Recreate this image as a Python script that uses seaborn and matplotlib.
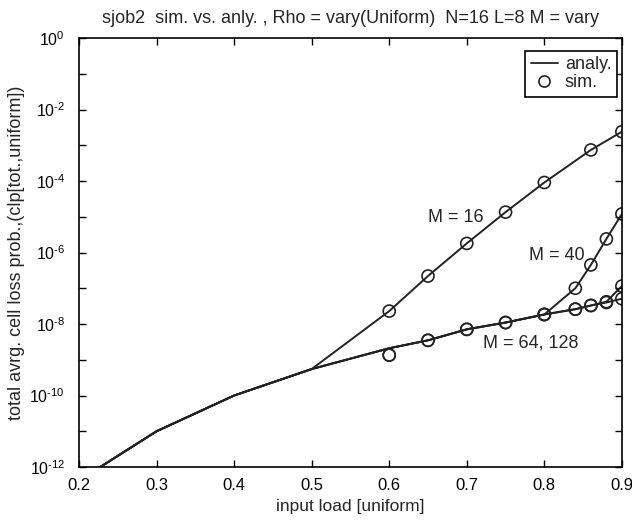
import numpy as np
import pandas as pd
import matplotlib
matplotlib.use("Agg")
import matplotlib.pyplot as plt
from matplotlib.lines import Line2D
import seaborn as sns

# ---- data ----
shared_x = [0.2, 0.3, 0.4, 0.5]
shared_y = [4.2e-13, 1.0e-11, 1.0e-10, 5.5e-10]

m16_x = [0.6, 0.65, 0.7, 0.75, 0.8, 0.86, 0.9]
m16_analy = [2.3e-8, 2.2e-7, 1.8e-6, 1.35e-5, 9.1e-5, 7.4e-4, 2.4e-3]
m16_sim = [2.3e-8, 2.2e-7, 1.8e-6, 1.35e-5, 9.1e-5, 7.4e-4, 2.4e-3]

mhi_x = [0.6, 0.65, 0.7, 0.75, 0.8, 0.84, 0.86, 0.88, 0.9]
m64_analy = [2.1e-9, 3.5e-9, 7.1e-9, 1.1e-8, 1.85e-8, 2.6e-8, 3.3e-8, 4.2e-8, 1.15e-7]
m128_analy = [2.1e-9, 3.5e-9, 7.1e-9, 1.1e-8, 1.85e-8, 2.6e-8, 3.3e-8, 4.0e-8, 5.1e-8]
m64_sim = [1.35e-9, 3.5e-9, 7.1e-9, 1.1e-8, 1.85e-8, 2.6e-8, 3.3e-8, 4.2e-8, 1.15e-7]
m128_sim = [1.35e-9, 3.5e-9, 7.1e-9, 1.1e-8, 1.85e-8, 2.6e-8, 3.3e-8, 4.0e-8, 5.1e-8]

m40_x = [0.84, 0.86, 0.88, 0.9]
m40_analy = [1.0e-7, 4.5e-7, 2.4e-6, 1.2e-5]
m40_sim_x = [0.8, 0.84, 0.86, 0.88, 0.9]
m40_sim = [1.85e-8, 1.0e-7, 4.5e-7, 2.4e-6, 1.2e-5]

x_ticks = [0.2, 0.3, 0.4, 0.5, 0.6, 0.7, 0.8, 0.9]
y_label_exps = [0, -2, -4, -6, -8, -10, -12]

title = "sjob2  sim. vs. anly. , Rho = vary(Uniform)  N=16 L=8 M = vary"
xlabel = "input load [uniform]"
ylabel = "total avrg. cell loss prob.,(clp[tot.,uniform])"

# ---- build tables ----
rows = []
def add(series, xs, ys):
    for x, y in zip(xs, ys):
        rows.append({"series": series, "load": x, "clp": y})

add("M=16", shared_x + m16_x, shared_y + m16_analy)
add("M=40", shared_x + mhi_x[:5] + m40_x, shared_y + m64_analy[:5] + m40_analy)
add("M=64", shared_x + mhi_x, shared_y + m64_analy)
add("M=128", shared_x + mhi_x, shared_y + m128_analy)
analy = pd.DataFrame(rows)

rows = []
add("M=16", m16_x, m16_sim)
add("M=40", m40_sim_x, m40_sim)
add("M=64", mhi_x, m64_sim)
add("M=128", mhi_x, m128_sim)
sim = pd.DataFrame(rows)

# ---- plot ----
sns.set_theme(style="ticks")
plt.rcParams["font.family"] = ["Liberation Sans", "DejaVu Sans"]
plt.rcParams["mathtext.fontset"] = "custom"
plt.rcParams["mathtext.rm"] = "Liberation Sans"
plt.rcParams["mathtext.it"] = "Liberation Sans"

fig = plt.figure(figsize=(6.32, 5.21), dpi=100)
ax = fig.add_axes([0.125, 0.1036, 0.859, 0.8234])

lc = "#222222"
sns.lineplot(data=analy, x="load", y="clp", units="series", estimator=None,
             color=lc, linewidth=1.4, ax=ax, sort=False, legend=False)
sns.scatterplot(data=sim, x="load", y="clp", marker="o", s=75,
                facecolor="none", edgecolor=lc, linewidth=1.2, ax=ax, legend=False)

ax.set_yscale("log")
ax.set_xlim(0.2, 0.9)
ax.set_ylim(1e-12, 1e0)
ax.set_xticks(x_ticks)
ax.set_xticklabels([f"{v:.1f}" for v in x_ticks])
ax.set_yticks([10.0 ** e for e in range(0, -13, -1)])


def sup_label(e):
    if e not in y_label_exps:
        return ""
    s = str(e).replace("-", "")
    sign = r"\text{-}" if e < 0 else ""
    return f"$10^{{{sign}{s}}}$"


ax.set_yticklabels([sup_label(e) for e in range(0, -13, -1)])
ax.yaxis.set_minor_locator(matplotlib.ticker.NullLocator())
ax.tick_params(which="both", direction="in", top=True, right=True, length=5,
               width=1, colors="black")
ax.tick_params(axis="x", labelsize=12, pad=8)
ax.tick_params(axis="y", labelsize=11.5, pad=10)
for s in ax.spines.values():
    s.set_linewidth(1.2)
    s.set_color("black")

ax.set_title(title, fontsize=13, pad=11)
ax.set_xlabel(xlabel, fontsize=12.5, labelpad=4)
ax.set_ylabel(ylabel, fontsize=13, labelpad=3)

ax.text(0.722, 10 ** -5.03, "M = 16", ha="right", va="center", fontsize=13)
ax.text(0.780, 10 ** -6.07, "M = 40", ha="left", va="center", fontsize=13)
ax.text(0.721, 10 ** -8.54, "M = 64, 128", ha="left", va="center", fontsize=13)

handles = [Line2D([0], [0], color=lc, lw=1.3),
           Line2D([0], [0], color=lc, lw=0, marker="o", markerfacecolor="none",
                  markersize=8, markeredgewidth=1.2)]
leg = ax.legend(handles, ["analy.", "sim."], loc="upper right",
                bbox_to_anchor=(0.9908, 0.9697), borderaxespad=0, fontsize=13,
                frameon=True, fancybox=False, edgecolor="black", framealpha=1,
                handlelength=1.5, handletextpad=0.4, borderpad=0.3,
                labelspacing=0.05)
leg.get_frame().set_linewidth(1.2)

fig.savefig("out.png", dpi=100)
